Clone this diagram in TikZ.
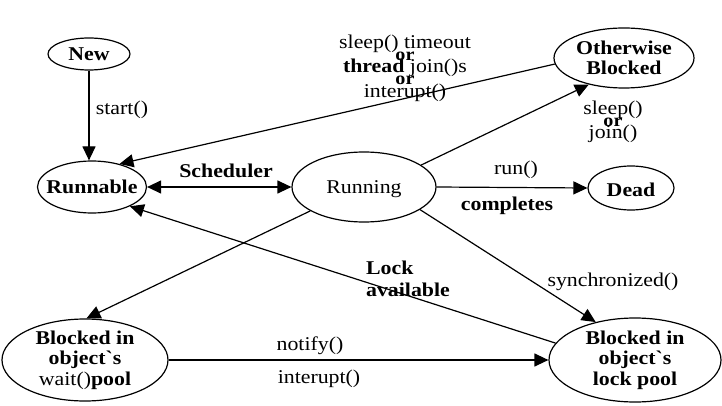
\documentclass[tikz,border=0pt]{standalone}
\usepackage{fontspec}
\setmainfont{Liberation Serif}[FakeStretch=1.12,Ligatures=TeXOff]
\usetikzlibrary{arrows.meta,shapes.geometric}
\newcommand{\orword}{{\fontsize{18}{12}\selectfont\bfseries or}}
\newcommand{\tightlines}{\lineskiplimit=-50pt\relax\lineskip=0pt\relax}
\begin{document}
\begin{tikzpicture}[x=1pt,y=-1pt,
  state/.style={draw,ellipse,line width=1.2pt,inner sep=0pt},
  conn/.style={line width=1.2pt,-{Triangle[length=14pt,width=13pt]}},
  both/.style={line width=1.2pt,{Triangle[length=14pt,width=13pt]}-{Triangle[length=14pt,width=13pt]}},
  lbl/.style={font=\fontsize{19.5}{20.5}\selectfont,inner sep=0pt},
  blbl/.style={inner sep=0pt,font=\fontsize{19.5}{20.5}\selectfont\bfseries},
  tight/.style={inner sep=0pt,align=center,font=\fontsize{19.5}{12.2}\selectfont\tightlines}]
\useasboundingbox (0,0) rectangle (722,406);
\fill[white] (0,0) rectangle (722,406);

% states
\node[state,minimum width=82pt,minimum height=32pt,label={[blbl]center:New}] (new) at (89,54) {};
\node[state,minimum width=109pt,minimum height=52pt,label={[blbl]center:Runnable}] (run) at (92,187) {};
\node[state,minimum width=144pt,minimum height=70pt,label={[lbl,yshift=-2pt]center:Running}] (running) at (364,187) {};
\node[state,minimum width=140pt,minimum height=60pt,label={[blbl,align=center]center:Otherwise\\Blocked}] (ob) at (624,58) {};
\node[state,minimum width=86pt,minimum height=44pt,label={[blbl,yshift=-2pt]center:Dead}] (dead) at (631,188) {};
\node[state,minimum width=166pt,minimum height=82pt,label={[lbl,align=center]center:\textbf{Blocked in}\\\textbf{object`s}\\wait()\textbf{pool}}] (bw) at (85,360) {};
\node[state,minimum width=172pt,minimum height=84pt,label={[blbl,align=center]center:Blocked in\\object`s\\lock pool}] (bl) at (635,360) {};

% connectors
\draw[conn] (new.south) -- (new.south |- run.north);
\draw[both] (run.east) -- (running.west);
\draw[conn] (ob.185.9) -- (run.40.6);
\draw[conn] (running.21.4) -- (ob.217.6);
\draw[conn] (running.east) -- (dead.west);
\draw[conn] (running.204.5) -- (bw.88);
\draw[conn] (running.338.7) -- (bl.136.4);
\draw[conn] (bl.168.3) -- (run.333);
\draw[conn] (bw.east) -- (bl.west);

% labels
\node[lbl] (lstart) at (122,110) {start()};
\node[blbl] (lsched) at (226,171) {Scheduler};
\node[tight] (lsleep) at (405,68) {sleep() timeout\\{}\orword\\{}\textbf{thread} join()s\\{}\orword\\{}interupt()};
\node[tight] (lsj) at (613,122) {sleep()\\{}\orword\\{}join()};
\node[lbl] (lrun) at (516,170) {run()};
\node[blbl] (lcompl) at (507,206) {completes};
\node[blbl,align=left] (llock) at (408,279) {Lock\\[1.5pt]available};
\node[lbl] (lsync) at (613,282) {synchronized()};
\node[lbl] (lnotify) at (310,346) {notify()};
\node[lbl] (lint) at (319,379) {interupt()};
\end{tikzpicture}
\end{document}
